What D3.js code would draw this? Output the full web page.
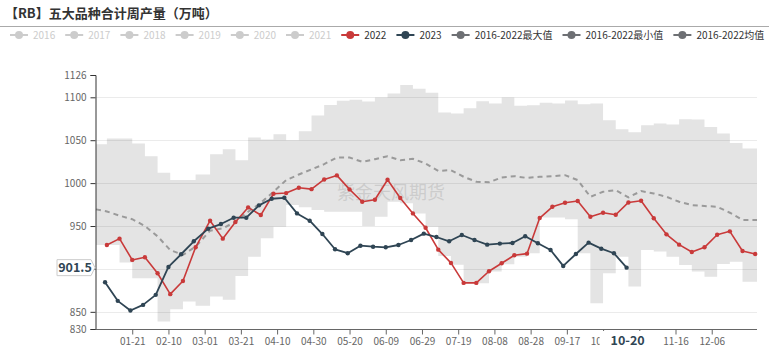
<!DOCTYPE html>
<html>
<head>
<meta charset="utf-8">
<script src="https://cdn.jsdelivr.net/npm/d3@7"></script>
<style>
  html, body { margin: 0; padding: 0; background: #fff; }
  svg { display: block; font-family: "Noto Sans CJK SC", "Noto Sans", sans-serif; }
</style>
</head>
<body>
<svg id="chart" width="769" height="350"></svg>
<script>
// ---- data ----
const titleText = "【RB】五大品种合计周产量（万吨）";
const hiddenYears = ["2016", "2017", "2018", "2019", "2020", "2021"];
const seriesNames = ["2022", "2023", "2016-2022最大值", "2016-2022最小值", "2016-2022均值"];
const xTickValues = ["01-21", "02-10", "03-01", "03-21", "04-10", "04-30", "05-20", "06-09",
  "06-29", "07-19", "08-08", "08-28", "09-17", "10-07", "10-27", "11-16", "12-06"];
const xHiddenLabels = ["10-27"];           // sits under the pointer label
const yTickValues = [830, 850, 900, 950, 1000, 1050, 1100, 1126];
const yHiddenLabels = [900];               // sits under the pointer label
const gridValues = [850, 900, 950, 1000, 1050, 1100];

// weekly output, 2022 (Fridays)
const prod2022 = [927.9, 935.3, 910.5, 913.6, 895.0, 870.6, 886.0, 925.2, 956.2, 935.3,
  954.7, 971.7, 962.8, 987.6, 988.4, 994.6, 993.0, 1004.3, 1009.0, 992.7,
  978.3, 980.6, 1003.9, 982.6, 964.7, 948.0, 922.5, 907.0, 883.7, 883.7,
  897.3, 906.6, 915.9, 917.8, 959.3, 972.4, 977.1, 979.1, 960.8, 965.5,
  963.2, 977.5, 979.5, 959.0, 940.3, 928.3, 919.8, 925.2, 939.9, 943.8,
  920.9, 917.4];

// weekly output, 2023 (Fridays, up to 10-20)
const prod2023 = [884.5, 862.8, 851.5, 858.1, 869.8, 902.3, 917.1, 932.2, 946.9, 952.3,
  959.7, 959.7, 974.1, 981.8, 982.9, 964.7, 956.2, 940.7, 922.9, 918.3,
  927.1, 925.9, 925.2, 927.9, 933.7, 941.1, 937.2, 932.2, 939.5, 933.7,
  928.3, 929.5, 930.2, 938.0, 929.9, 922.1, 903.5, 917.4, 930.6, 923.6,
  918.3, 901.5];

// 2016-2022 weekly envelope (each value holds until the next week)
const bandMax = [1045.3, 1052.0, 1052.0, 1046.2, 1031.4, 1012.0, 1003.5, 1003.5, 1010.1, 1033.7,
  1039.5, 1026.7, 1053.1, 1050.8, 1057.0, 1050.0, 1060.5, 1078.7, 1091.0, 1096.1,
  1097.3, 1095.0, 1099.7, 1104.3, 1114.3, 1110.0, 1105.4, 1082.2, 1081.0, 1087.2,
  1095.3, 1092.7, 1099.7, 1090.3, 1090.7, 1093.8, 1092.7, 1096.2, 1091.9, 1092.7,
  1073.3, 1062.8, 1059.3, 1067.4, 1069.4, 1068.3, 1074.4, 1074.0, 1065.5, 1057.8,
  1046.9, 1040.3];
const bandMin = [927.9, 927.9, 907.4, 889.2, 889.2, 838.7, 853.1, 862.0, 857.0, 867.8,
  864.0, 891.9, 914.3, 935.7, 949.2, 974.4, 972.0, 968.6, 966.6, 966.6,
  966.6, 950.0, 960.8, 978.3, 976.4, 964.7, 949.2, 915.0, 905.0, 883.4,
  883.4, 896.9, 905.5, 914.3, 918.3, 960.0, 960.0, 958.0, 918.3, 860.1,
  895.0, 914.3, 879.4, 922.1, 920.2, 914.3, 904.7, 896.9, 891.0, 905.8,
  908.5, 885.2];
const bandMean = [969.4, 967.0, 962.0, 958.0, 950.0, 938.0, 922.0, 916.3, 926.0, 944.6,
  947.3, 955.0, 966.6, 977.0, 989.9, 1003.5, 1010.0, 1016.0, 1022.1, 1029.9,
  1029.9, 1024.8, 1027.9, 1031.4, 1026.7, 1028.3, 1022.9, 1014.3, 1015.1, 1007.4,
  1001.6, 1001.0, 1006.6, 1008.1, 1006.0, 1007.4, 1008.1, 1009.3, 1003.5, 984.1,
  989.9, 991.9, 983.4, 990.7, 988.0, 984.1, 978.3, 974.4, 973.3, 972.5,
  965.5, 957.0];

// ---- colours ----
const C22 = "#c93a3a", C23 = "#2f4554", CBAND = "#e4e4e4", CMEAN = "#9a9a9a", CGREY = "#6e7074";

// ---- scales ----
const svg = d3.select("#chart");
const fmt = d3.timeFormat("%m-%d");
const categories = d3.timeDay.range(new Date(2020, 0, 1), new Date(2021, 0, 1)).map(fmt);
const x = d3.scalePoint().domain(categories).range([96, 757]);
const y = d3.scaleLinear().domain([830, 1126]).range([329, 75]);

const dates2022 = d3.timeFriday.range(new Date(2022, 0, 1), new Date(2023, 0, 1)).map(fmt);
const dates2023 = d3.timeFriday.range(new Date(2023, 0, 1), new Date(2023, 9, 21)).map(fmt);
const s2022 = dates2022.map((d, i) => ({ date: d, v: prod2022[i] }));
const s2023 = dates2023.map((d, i) => ({ date: d, v: prod2023[i] }));

const bandDates = ["01-01"].concat(dates2022.slice(0, bandMax.length - 1));
const band = bandDates.map((d, i) => ({ date: d, max: bandMax[i], min: bandMin[i], mean: bandMean[i] }));
band.push(Object.assign({}, band[band.length - 1], { date: "12-31" }));

// ---- title ----
svg.append("text").attr("x", 5).attr("y", 18)
  .attr("font-size", 13).attr("font-weight", 600).attr("fill", "#333").text(titleText);
svg.append("line").attr("x1", 0).attr("x2", 769).attr("y1", 26.5).attr("y2", 26.5)
  .attr("stroke", "#aaa").attr("stroke-width", 1);

// ---- legend ----
const legendItems = hiddenYears.map(n => ({ name: n, color: "#ccc", text: "#ccc" }))
  .concat([
    { name: seriesNames[0], color: C22, text: "#333" },
    { name: seriesNames[1], color: C23, text: "#333" },
    { name: seriesNames[2], color: CGREY, text: "#333" },
    { name: seriesNames[3], color: CGREY, text: "#333" },
    { name: seriesNames[4], color: CGREY, text: "#333" }
  ]);
const legend = svg.append("g").attr("transform", "translate(0,35)");
let lx = 10;
legendItems.forEach(it => {
  const g = legend.append("g").attr("transform", `translate(${lx},0)`);
  g.append("line").attr("x1", 0).attr("x2", 18).attr("y1", 0).attr("y2", 0)
    .attr("stroke", it.color).attr("stroke-width", 2);
  g.append("circle").attr("cx", 9).attr("cy", 0).attr("r", 4).attr("fill", it.color);
  const t = g.append("text").attr("x", 23).attr("y", 3.5).attr("font-size", 10)
    .attr("fill", it.text).text(it.name);
  lx += 23 + t.node().getComputedTextLength() + 10;
});

// ---- plot ----
const plot = svg.append("g");

// min-max envelope
plot.append("path").datum(band)
  .attr("fill", CBAND)
  .attr("d", d3.area().curve(d3.curveStepAfter)
    .x(d => x(d.date)).y0(d => y(d.min)).y1(d => y(d.max)));

// grid lines
plot.append("g").selectAll("line").data(gridValues).join("line")
  .attr("x1", 96).attr("x2", 757)
  .attr("y1", d => Math.round(y(d)) + 0.5).attr("y2", d => Math.round(y(d)) + 0.5)
  .attr("stroke", "rgba(0,0,0,0.08)").attr("stroke-width", 1);

// watermark
plot.append("text").attr("x", 391).attr("y", 199).attr("text-anchor", "middle")
  .attr("font-size", 18).attr("fill", "#b4b4b4").attr("fill-opacity", 0.5)
  .text("紫金天风期货");

// mean (dashed)
plot.append("path").datum(band)
  .attr("fill", "none").attr("stroke", CMEAN).attr("stroke-width", 2)
  .attr("stroke-dasharray", "5,4")
  .attr("d", d3.line().x(d => x(d.date)).y(d => y(d.mean)));

// year series
function drawSeries(data, color, width) {
  const g = plot.append("g");
  g.append("path").datum(data)
    .attr("fill", "none").attr("stroke", color).attr("stroke-width", width)
    .attr("stroke-linejoin", "round")
    .attr("d", d3.line().x(d => x(d.date)).y(d => y(d.v)));
  g.selectAll("circle").data(data).join("circle")
    .attr("cx", d => x(d.date)).attr("cy", d => y(d.v)).attr("r", 2.2).attr("fill", color);
}
drawSeries(s2022, C22, 1.6);
drawSeries(s2023, C23, 1.8);

// ---- axes ----
const yAxis = svg.append("g").attr("transform", "translate(95.5,0)")
  .call(d3.axisLeft(y).tickValues(yTickValues).tickSize(5).tickPadding(4)
    .tickFormat(d => yHiddenLabels.includes(d) ? "" : d3.format("d")(d)));
yAxis.select(".domain").attr("stroke", "#333");
yAxis.selectAll(".tick line").attr("stroke", "#333");
yAxis.selectAll("text").attr("fill", "#666").attr("font-size", 10)
  .attr("font-family", "\"Noto Sans CJK SC\", sans-serif");

const xAxis = svg.append("g").attr("transform", "translate(0,329.5)")
  .call(d3.axisBottom(x).tickValues(xTickValues).tickSize(5).tickPadding(3).tickSizeOuter(0)
    .tickFormat(d => xHiddenLabels.includes(d) ? "" : d));
xAxis.select(".domain").attr("stroke", "#666").attr("d", "M95.5,0H757");
xAxis.selectAll(".tick line").attr("stroke", "#666");
xAxis.selectAll("text").attr("fill", "#666").attr("font-size", 10)
  .attr("font-family", "\"Noto Sans CJK SC\", sans-serif");

// ---- pointer labels at the latest 2023 point ----
const last = s2023[s2023.length - 1];
const px = x(last.date), py = y(last.v);

// the x pointer label box covers the right part of the neighbouring tick label
const boxL = px - 27, boxW = 56;
const coveredTick = "10-07";
svg.append("clipPath").attr("id", "leftOfBox")
  .append("rect").attr("x", -60).attr("y", -10).attr("width", boxL - x(coveredTick) + 60).attr("height", 40);
xAxis.selectAll(".tick text").filter(d => d === coveredTick).attr("clip-path", "url(#leftOfBox)");

const xl = svg.append("g");
xl.append("rect").attr("x", boxL).attr("y", 331).attr("width", boxW).attr("height", 18).attr("fill", "#fff");
xl.append("text").attr("x", px + 1).attr("y", 345).attr("text-anchor", "middle")
  .attr("font-size", 12.5).attr("font-weight", 700).attr("fill", C23).text(last.date);

const yl = svg.append("g");
const bx0 = 57, bx1 = 91, by0 = py - 8, by1 = py + 8;
yl.append("path")
  .attr("d", `M${bx0},${by0}H${bx1}L${bx1 + 4},${py}L${bx1},${by1}H${bx0}Z`)
  .attr("fill", "#fff").attr("stroke", "#ccc").attr("stroke-width", 1);
yl.append("text").attr("x", (bx0 + bx1) / 2 + 1).attr("y", py + 4.5).attr("text-anchor", "middle")
  .attr("font-size", 12.5).attr("font-weight", 700).attr("fill", C23).text(d3.format(".1f")(last.v));
</script>
</body>
</html>
